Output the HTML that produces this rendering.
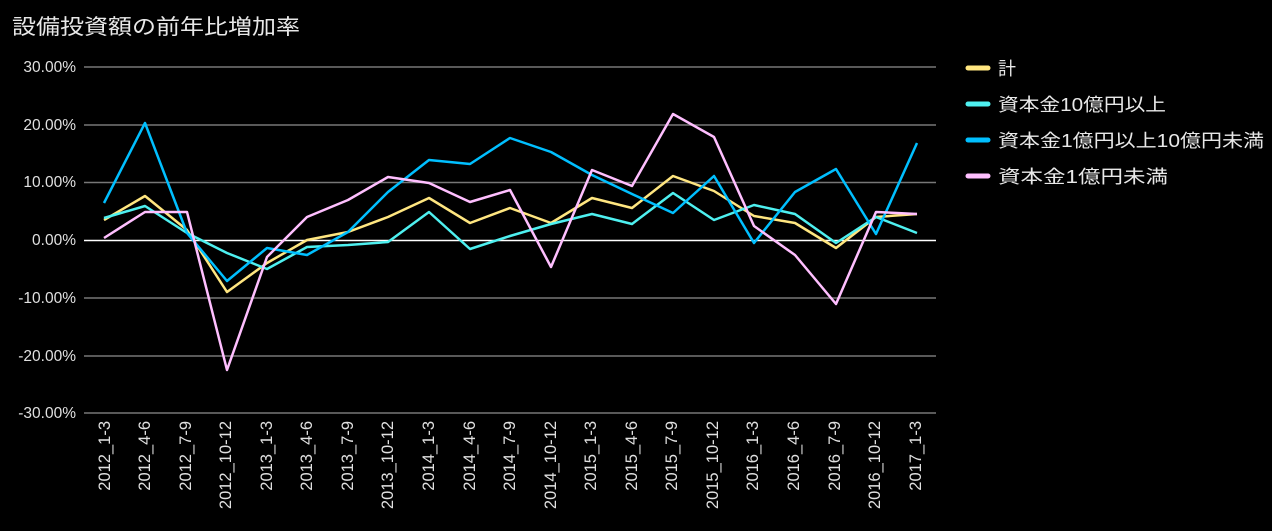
<!DOCTYPE html>
<html><head><meta charset="utf-8"><style>
body{margin:0;background:#000;}
svg{display:block;font-family:"Liberation Sans","Noto Sans CJK JP",sans-serif;}
</style></head><body>
<svg width="1272" height="531" viewBox="0 0 1272 531">
<rect width="1272" height="531" fill="#000"/>
<text x="12" y="34" fill="#e8e8e8" font-size="21" textLength="288" lengthAdjust="spacingAndGlyphs">設備投資額の前年比増加率</text>
<g stroke="#777" stroke-width="1.5">
<line x1="84" x2="936" y1="67" y2="67"/><line x1="84" x2="936" y1="125" y2="125"/>
<line x1="84" x2="936" y1="182.5" y2="182.5"/><line x1="84" x2="936" y1="298" y2="298"/>
<line x1="84" x2="936" y1="356" y2="356"/><line x1="84" x2="936" y1="413" y2="413"/>
</g>
<line x1="84" x2="936" y1="240.5" y2="240.5" stroke="#fff" stroke-width="1.5"/>
<g fill="#e0e0e0" font-size="15.5" text-anchor="end">
<text x="76" y="72">30.00%</text><text x="76" y="130">20.00%</text><text x="76" y="187">10.00%</text>
<text x="76" y="245">0.00%</text><text x="76" y="303">-10.00%</text><text x="76" y="361">-20.00%</text><text x="76" y="418">-30.00%</text>
</g>
<g fill="#e0e0e0" font-size="16.5" text-anchor="end">
<text transform="translate(110,421) rotate(-90)">2012_1-3</text>
<text transform="translate(150,421) rotate(-90)">2012_4-6</text>
<text transform="translate(191,421) rotate(-90)">2012_7-9</text>
<text transform="translate(231,421) rotate(-90)">2012_10-12</text>
<text transform="translate(272,421) rotate(-90)">2013_1-3</text>
<text transform="translate(312,421) rotate(-90)">2013_4-6</text>
<text transform="translate(353,421) rotate(-90)">2013_7-9</text>
<text transform="translate(393,421) rotate(-90)">2013_10-12</text>
<text transform="translate(434,421) rotate(-90)">2014_1-3</text>
<text transform="translate(475,421) rotate(-90)">2014_4-6</text>
<text transform="translate(515,421) rotate(-90)">2014_7-9</text>
<text transform="translate(556,421) rotate(-90)">2014_10-12</text>
<text transform="translate(596,421) rotate(-90)">2015_1-3</text>
<text transform="translate(637,421) rotate(-90)">2015_4-6</text>
<text transform="translate(677,421) rotate(-90)">2015_7-9</text>
<text transform="translate(718,421) rotate(-90)">2015_10-12</text>
<text transform="translate(758,421) rotate(-90)">2016_1-3</text>
<text transform="translate(799,421) rotate(-90)">2016_4-6</text>
<text transform="translate(840,421) rotate(-90)">2016_7-9</text>
<text transform="translate(880,421) rotate(-90)">2016_10-12</text>
<text transform="translate(921,421) rotate(-90)">2017_1-3</text>
</g>
<g fill="none" stroke-width="2.5" stroke-linejoin="round">
<polyline stroke="#ffe680" points="104,220 145,196 187,230 227,292 267,263 307,240 348,232 388,217 429,198 470,223 510,208 551,223 592,198 632,208 673,176 714,191 754,216 795,223 836,248 876,217 917,214"/>
<polyline stroke="#4ef0f0" points="104,218 145,206 187,233 227,253 267,269 307,247 348,245 388,242 429,212 470,249 510,236 551,224 592,214 632,224 673,193 714,220 754,205 795,214 836,243 876,217 917,233"/>
<polyline stroke="#00bfff" points="104,203 145,123 187,233 227,281 267,248 307,255 348,232 388,192 429,160 470,164 510,138 551,152 592,175 632,194 673,213 714,176 754,243 795,192 836,169 876,234 917,143"/>
<polyline stroke="#ffbfff" points="104,238 145,212 187,212 227,370 267,257 307,217 348,200 388,177 429,183 470,202 510,190 551,267 592,170 632,186 673,114 714,137 754,226 795,255 836,304 876,212 917,214"/>
</g>
<g font-size="18" fill="#e8e8e8">
<line x1="968" x2="988" y1="68" y2="68" stroke="#ffe680" stroke-width="5" stroke-linecap="round"/>
<text x="998" y="75">計</text>
<line x1="968" x2="988" y1="104" y2="104" stroke="#4ef0f0" stroke-width="5" stroke-linecap="round"/>
<text x="998" y="111" textLength="168" lengthAdjust="spacingAndGlyphs">資本金10億円以上</text>
<line x1="968" x2="988" y1="140" y2="140" stroke="#00bfff" stroke-width="5" stroke-linecap="round"/>
<text x="998" y="147" textLength="266" lengthAdjust="spacingAndGlyphs">資本金1億円以上10億円未満</text>
<line x1="968" x2="988" y1="176" y2="176" stroke="#ffbfff" stroke-width="5" stroke-linecap="round"/>
<text x="998" y="183" textLength="170" lengthAdjust="spacingAndGlyphs">資本金1億円未満</text>
</g>
</svg>
</body></html>
